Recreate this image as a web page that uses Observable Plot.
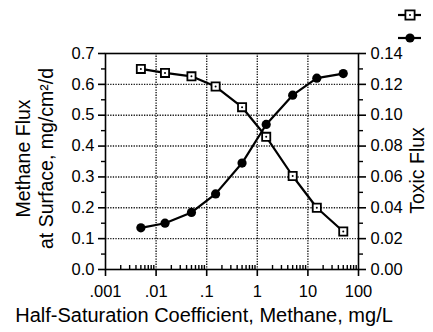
<!DOCTYPE html>
<html><head><meta charset="utf-8">
<script src="https://cdn.jsdelivr.net/npm/d3@7"></script>
<script src="https://cdn.jsdelivr.net/npm/@observablehq/plot@0.6"></script>
<style>
body{margin:0;background:#fff;font-family:"Liberation Sans",Arial,sans-serif}
#wrap{position:relative;width:433px;height:332px;overflow:hidden}
#legend{position:absolute;left:390px;top:0px}
</style></head><body>
<div id="wrap"></div>
<script>
// Data
const halfSat = [0.005, 0.015, 0.05, 0.15, 0.5, 1.5, 5, 15, 50];
const methaneFlux = [0.650, 0.637, 0.626, 0.593, 0.526, 0.430, 0.303, 0.200, 0.123];
const toxicFlux = [0.027, 0.030, 0.037, 0.049, 0.069, 0.094, 0.113, 0.124, 0.127];

const xTicks = [0.001, 0.01, 0.1, 1, 10, 100];
const xTickLabels = [".001", ".01", ".1", "1", "10", "100"];
const leftTicks = [0, 0.1, 0.2, 0.3, 0.4, 0.5, 0.6, 0.7];
const leftTickLabels = ["0.0", "0.1", "0.2", "0.3", "0.4", "0.5", "0.6", "0.7"];
const rightTicks = [0, 0.02, 0.04, 0.06, 0.08, 0.10, 0.12, 0.14];
const rightTickLabels = ["0.00", "0.02", "0.04", "0.06", "0.08", "0.10", "0.12", "0.14"];
const leftMinor = [0.05, 0.15, 0.25, 0.35, 0.45, 0.55, 0.65];
const xMinorMult = [2, 3, 4, 5, 6, 7, 8, 9];

const xLabel = "Half-Saturation Coefficient, Methane, mg/L";
const yLeftLabel = "Methane Flux\nat Surface, mg/cm²/d";
const yRightLabel = "Toxic Flux";

const RATIO = 0.7 / 0.14; // left-axis units per right-axis unit

const data = halfSat.map((x, i) => ({x, methane: methaneFlux[i], toxic: toxicFlux[i]}));
const xMinor = xTicks.slice(0, -1).flatMap(d => xMinorMult.map(m => d * m));

const grid = {stroke: "#000", strokeOpacity: 0.9, strokeWidth: 1.4, strokeDasharray: "1.3,1.3"};
const tickStyle = {fontSize: 16.5, stroke: "#000", strokeWidth: 1.6};

const chart = Plot.plot({
  width: 433,
  height: 332,
  marginLeft: 105,
  marginRight: 75,
  marginTop: 53,
  marginBottom: 63,
  style: {fontFamily: "'Liberation Sans', Arial, sans-serif", fontSize: "16px", color: "#000", background: "#fff"},
  x: {type: "log", domain: [0.001, 100]},
  y: {domain: [0, 0.7]},
  marks: [
    Plot.gridY(leftTicks.slice(1, -1), grid),
    Plot.gridX(xTicks.slice(1, -1), grid),
    Plot.frame({stroke: "#000", strokeWidth: 1.6}),
    Plot.axisY(leftTicks, {anchor: "left", tickSize: 7, tickPadding: 4, label: null,
      tickFormat: (d) => leftTickLabels[leftTicks.indexOf(d)], ...tickStyle}),
    Plot.axisY(leftMinor, {anchor: "left", tickSize: 4, text: null, label: null, stroke: "#000", strokeWidth: 1.4}),
    Plot.axisY(rightTicks.map(v => v * RATIO), {anchor: "right", tickSize: 7, tickPadding: 5, label: null,
      tickFormat: (d) => rightTickLabels[rightTicks.findIndex(v => Math.abs(v * RATIO - d) < 1e-9)], ...tickStyle}),
    Plot.axisY(leftMinor, {anchor: "right", tickSize: 4, text: null, label: null, stroke: "#000", strokeWidth: 1.4}),
    Plot.axisX(xTicks, {anchor: "bottom", tickSize: 7, tickPadding: 9, label: null,
      tickFormat: (d) => xTickLabels[xTicks.indexOf(d)], ...tickStyle}),
    Plot.axisX(xMinor, {anchor: "bottom", tickSize: -4, text: null, label: null, stroke: "#000", strokeWidth: 1.4}),
    Plot.line(data, {x: "x", y: "methane", stroke: "#000", strokeWidth: 2.2}),
    Plot.line(data, {x: "x", y: (d) => d.toxic * RATIO, stroke: "#000", strokeWidth: 2.2}),
    Plot.dot(data, {x: "x", y: "methane", symbol: "square", r: 4.6, fill: "#fff", stroke: "#000", strokeWidth: 1.8}),
    Plot.dot(data, {x: "x", y: "methane", r: 1, fill: "#000"}),
    Plot.dot(data, {x: "x", y: (d) => d.toxic * RATIO, r: 4.6, fill: "#000"}),
    Plot.text([yLeftLabel], {frameAnchor: "left", textAnchor: "middle", lineAnchor: "middle", rotate: -90,
      dx: -71, dy: -3, fontSize: 19.5, lineHeight: 1.18, fill: "#000"}),
    Plot.text([yRightLabel], {frameAnchor: "right", textAnchor: "middle", lineAnchor: "middle", rotate: -90,
      dx: 59, dy: 9, fontSize: 19.5, fill: "#000"}),
    Plot.text([xLabel], {frameAnchor: "bottom", textAnchor: "middle", lineAnchor: "middle", dy: 46, dx: -28,
      fontSize: 20, fill: "#000"})
  ]
});
document.getElementById("wrap").appendChild(chart);

// Legend (symbols only, as in the reference)
const ns = "http://www.w3.org/2000/svg";
const leg = document.createElementNS(ns, "svg");
leg.setAttribute("id", "legend");
leg.setAttribute("width", "43");
leg.setAttribute("height", "50");
leg.innerHTML = `
  <line x1="8" x2="31" y1="15" y2="15" stroke="#000" stroke-width="2.2"/>
  <rect x="15.4" y="10.4" width="9.2" height="9.2" fill="#fff" stroke="#000" stroke-width="1.8"/>
  <circle cx="20" cy="15" r="1" fill="#000"/>
  <line x1="8" x2="31" y1="38" y2="38" stroke="#000" stroke-width="2.2"/>
  <circle cx="20" cy="38" r="4.6" fill="#000"/>`;
document.getElementById("wrap").appendChild(leg);
</script>
</body></html>
